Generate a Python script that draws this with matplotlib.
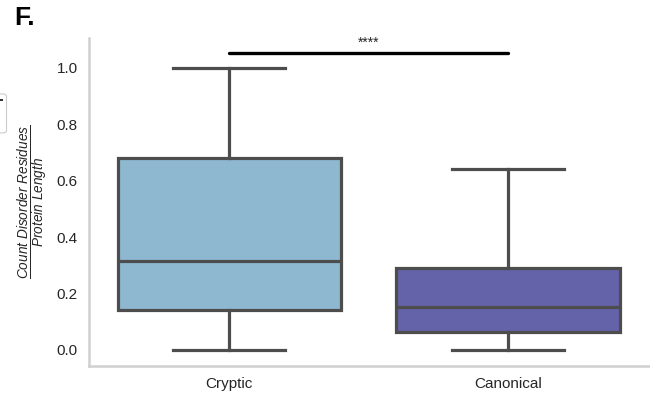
import matplotlib
matplotlib.use("Agg")
import matplotlib.pyplot as plt
from matplotlib.patches import FancyBboxPatch

plt.rcParams['font.family'] = ['Liberation Sans', 'DejaVu Sans']
plt.rcParams['mathtext.fontset'] = 'custom'
plt.rcParams['mathtext.rm'] = 'Liberation Sans'
plt.rcParams['mathtext.it'] = 'Liberation Sans:italic'

categories = ["Cryptic", "Canonical"]
whisker_low = [0.0, 0.0]
q1 = [0.142, 0.064]
median = [0.316, 0.152]
q3 = [0.681, 0.291]
whisker_high = [1.0, 0.642]
box_colors = ["#8db8d0", "#6462a8"]
signif_label = "****"
signif_y = 1.053

stats = []
for i, name in enumerate(categories):
    stats.append(dict(label=name, whislo=whisker_low[i], q1=q1[i], med=median[i],
                      q3=q3[i], whishi=whisker_high[i], fliers=[]))

fig = plt.figure(figsize=(6.5, 3.98), dpi=100)
ax = fig.add_axes([0.137, 0.0804, 0.863, 0.8241])

line_col = "#4d4d4d"
lw = 2.3
bp = ax.bxp(stats, positions=range(len(categories)), widths=0.8, patch_artist=True,
            showfliers=False,
            boxprops=dict(edgecolor=line_col, linewidth=lw),
            medianprops=dict(color=line_col, linewidth=lw),
            whiskerprops=dict(color=line_col, linewidth=lw),
            capprops=dict(color=line_col, linewidth=lw),
            capwidths=0.4)
for patch, c in zip(bp['boxes'], box_colors):
    patch.set_facecolor(c)

ax.set_xlim(-0.502, 1.509)
ax.set_ylim(-0.057, 1.106)
ax.set_xticks(range(len(categories)))
ax.set_xticklabels(categories)
ax.set_yticks([0.0, 0.2, 0.4, 0.6, 0.8, 1.0])
ax.tick_params(axis='both', length=0, labelsize=11, colors="#262626", pad=8)

for side in ("top", "right"):
    ax.spines[side].set_visible(False)
for side in ("left", "bottom"):
    ax.spines[side].set_color("#d0d0d0")
    ax.spines[side].set_linewidth(1.8)

ax.set_ylabel(r"$\frac{Count\ Disorder\ Residues}{Protein\ Length}$", fontsize=14,
              color="#262626", labelpad=4)

# significance bracket between the two groups
ax.plot([0, 1], [signif_y, signif_y], color="black", linewidth=2.4,
        solid_capstyle="round", clip_on=False)
ax.text(0.5, signif_y + 0.012, signif_label, ha="center", va="bottom", fontsize=10,
        color="#262626")

fig.text(0.022, 0.985, "F.", fontsize=19, fontweight="bold", ha="left", va="top")

# edge of the legend box that sits off the left side of the panel
fig.patches.append(FancyBboxPatch((-0.03, 0.666), 0.04, 0.098, boxstyle="round,pad=0,rounding_size=0.006",
                                  transform=fig.transFigure, facecolor="white",
                                  edgecolor="#cccccc", linewidth=0.8, figure=fig))
fig.patches.append(plt.Rectangle((0.0, 0.745), 0.005, 0.007, transform=fig.transFigure,
                                 facecolor="#333333", edgecolor="none", figure=fig))

fig.savefig("out.png", dpi=100)
